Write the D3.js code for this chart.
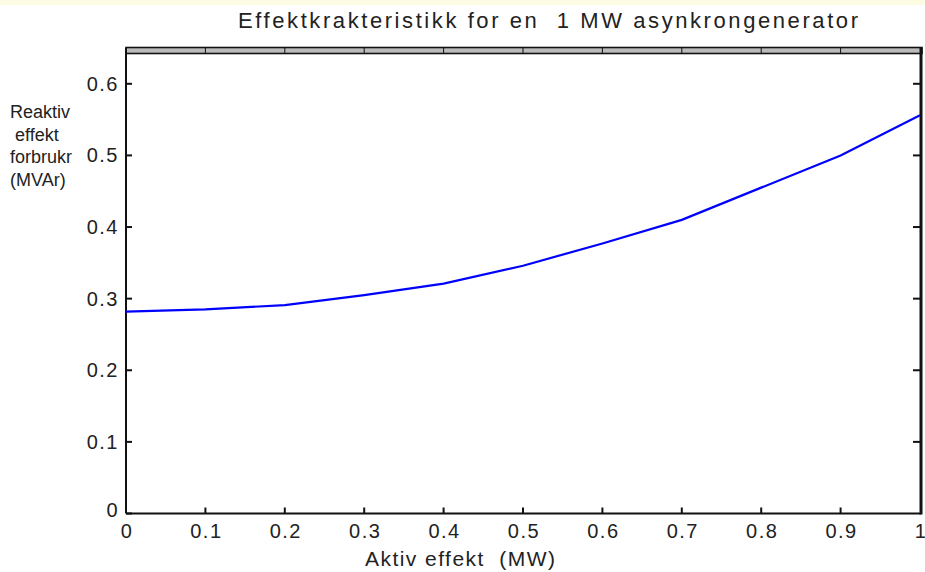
<!DOCTYPE html>
<html lang="en">
<head>
<meta charset="utf-8">
<title>Effektkrakteristikk</title>
<script src="https://d3js.org/d3.v7.min.js"></script>
<style>
  body { margin: 0; background: #fff; }
  text { font-family: "Liberation Sans", Arial, sans-serif; fill: #222; }
</style>
</head>
<body>
<script>
// DATA
var activePower = [0, 0.1, 0.2, 0.3, 0.4, 0.5, 0.6, 0.7, 0.8, 0.9, 1];
var reactivePower = [0.282, 0.285, 0.291, 0.305, 0.321, 0.346, 0.377, 0.410, 0.455, 0.500, 0.556];
var xTicks = [0, 0.1, 0.2, 0.3, 0.4, 0.5, 0.6, 0.7, 0.8, 0.9, 1];
var yTicks = [0, 0.1, 0.2, 0.3, 0.4, 0.5, 0.6];
var title = "Effektkrakteristikk for en\u00a0\u00a01 MW asynkrongenerator";
var xTitle = "Aktiv effekt\u00a0\u00a0(MW)";
var yTitle = ["Reaktiv", "\u00a0effekt", "forbrukr", "(MVAr)"];

var w = 925, h = 572;
var pLeft = 126, pRight = 920, pBottom = 513.5;

var svg = d3.select("body").append("svg")
  .attr("width", w).attr("height", h);

// light yellow strip at the very top
svg.append("rect").attr("x", 0).attr("y", 0).attr("width", w).attr("height", 5)
  .attr("fill", "#fdfbe2");

var x = d3.scaleLinear().domain([0, 1]).range([pLeft, pRight]);
var y = d3.scaleLinear().domain([0, 0.6]).range([pBottom, 83.8]);

// frame - top is a double line
svg.append("rect").attr("x", pLeft).attr("y", 47.5).attr("width", pRight - pLeft + 2).attr("height", 6)
  .attr("fill", "#bbb").attr("stroke", "#111").attr("stroke-width", 1.6);
svg.append("line").attr("x1", pLeft).attr("x2", pLeft).attr("y1", 48).attr("y2", pBottom)
  .attr("stroke", "#111").attr("stroke-width", 2);
svg.append("line").attr("x1", pLeft).attr("x2", pRight + 1).attr("y1", pBottom).attr("y2", pBottom)
  .attr("stroke", "#111").attr("stroke-width", 2);
svg.append("line").attr("x1", pRight + 1).attr("x2", pRight + 1).attr("y1", 48).attr("y2", pBottom + 1)
  .attr("stroke", "#111").attr("stroke-width", 3);

// ticks
var tk = svg.append("g").attr("stroke", "#111").attr("stroke-width", 2);
tk.selectAll(".tb").data(xTicks.slice(1, -1)).enter().append("line")
  .attr("x1", function(d) { return x(d); }).attr("x2", function(d) { return x(d); })
  .attr("y1", pBottom).attr("y2", pBottom - 6);
tk.selectAll(".tt").data(xTicks.slice(1, -1)).enter().append("line")
  .attr("x1", function(d) { return x(d); }).attr("x2", function(d) { return x(d); })
  .attr("y1", 48).attr("y2", 53).attr("stroke-width", 1);
tk.selectAll(".tl").data(yTicks).enter().append("line")
  .attr("x1", pLeft).attr("x2", pLeft + 6)
  .attr("y1", function(d) { return y(d); }).attr("y2", function(d) { return y(d); });
tk.selectAll(".tr").data(yTicks.slice(1)).enter().append("line")
  .attr("x1", pRight).attr("x2", pRight - 7)
  .attr("y1", function(d) { return y(d); }).attr("y2", function(d) { return y(d); });

// tick labels
svg.selectAll(".xl").data(xTicks).enter().append("text")
  .attr("x", function(d) { return x(d) + 1; }).attr("y", 538)
  .attr("text-anchor", "middle").attr("font-size", 20).attr("letter-spacing", 1.5)
  .text(function(d) { return d; });
svg.selectAll(".yl").data(yTicks).enter().append("text")
  .attr("x", 119).attr("y", function(d) { return y(d) + (d === 0 ? 3 : 7); })
  .attr("text-anchor", "end").attr("font-size", 20).attr("letter-spacing", 1.5)
  .text(function(d) { return d; });

// the curve
var line = d3.line()
  .x(function(d, i) { return x(activePower[i]); })
  .y(function(d) { return y(d); });
svg.append("path").datum(reactivePower)
  .attr("d", line).attr("fill", "none")
  .attr("stroke", "#0000ff").attr("stroke-width", 2.2);

// titles
svg.append("text").attr("x", 548).attr("y", 28).attr("text-anchor", "middle")
  .attr("font-size", 22).attr("textLength", 620).attr("lengthAdjust", "spacing").text(title);
svg.append("text").attr("x", 460).attr("y", 566).attr("text-anchor", "middle")
  .attr("font-size", 21).attr("textLength", 190).attr("lengthAdjust", "spacing").text(xTitle);
svg.selectAll(".yt").data(yTitle).enter().append("text")
  .attr("x", 10).attr("y", function(d, i) { return 118 + i * 22.5; })
  .attr("font-size", 18).text(function(d) { return d; });
</script>
</body>
</html>
